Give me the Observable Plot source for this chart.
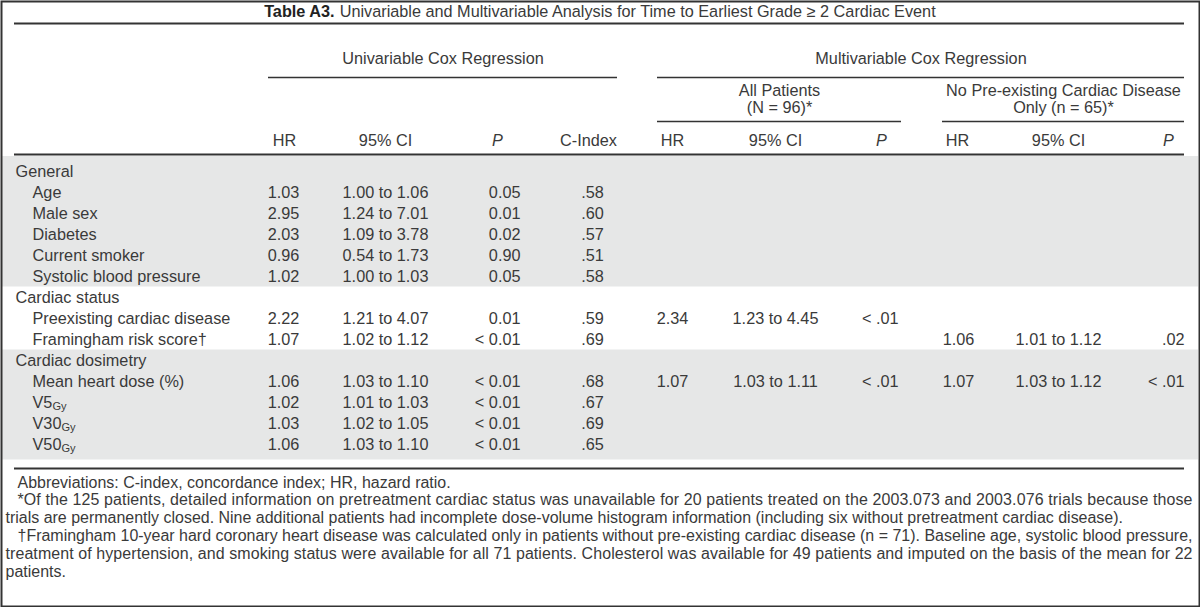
<!DOCTYPE html>
<html><head><meta charset="utf-8">
<script src="https://cdn.jsdelivr.net/npm/d3@7"></script>
<script src="https://cdn.jsdelivr.net/npm/@observablehq/plot@0.6"></script>
<style>html,body{margin:0;padding:0;background:#fff;overflow:hidden}</style>
</head><body><div id="chart"></div>
<script>
// ---------- data ----------
const titleBold = "Table A3.";
const titleRest = "Univariable and Multivariable Analysis for Time to Earliest Grade \u2265 2 Cardiac Event";
const spanners = ["Univariable Cox Regression", "Multivariable Cox Regression"];
const subSpanners = [["All Patients", "(N = 96)*"], ["No Pre-existing Cardiac Disease", "Only (n = 65)*"]];
const columnHeaders = ["HR", "95% CI", "P", "C-Index", "HR", "95% CI", "P", "HR", "95% CI", "P"];
const groups = ["General", "Cardiac status", "Cardiac dosimetry"];
const variables = ["Age", "Male sex", "Diabetes", "Current smoker", "Systolic blood pressure",
  "Preexisting cardiac disease", "Framingham risk score\u2020",
  "Mean heart dose (%)", "V5", "V30", "V50"];
const variableSub = ["", "", "", "", "", "", "", "", "Gy", "Gy", "Gy"];
const variableGroup = [0, 0, 0, 0, 0, 1, 1, 2, 2, 2, 2];
const uniHR = ["1.03", "2.95", "2.03", "0.96", "1.02", "2.22", "1.07", "1.06", "1.02", "1.03", "1.06"];
const uniCI = ["1.00 to 1.06", "1.24 to 7.01", "1.09 to 3.78", "0.54 to 1.73", "1.00 to 1.03",
  "1.21 to 4.07", "1.02 to 1.12", "1.03 to 1.10", "1.01 to 1.03", "1.02 to 1.05", "1.03 to 1.10"];
const uniP = ["0.05", "0.01", "0.02", "0.90", "0.05", "0.01", "< 0.01", "< 0.01", "< 0.01", "< 0.01", "< 0.01"];
const cIndex = [".58", ".60", ".57", ".51", ".58", ".59", ".69", ".68", ".67", ".69", ".65"];
const allHR = [null, null, null, null, null, "2.34", null, "1.07", null, null, null];
const allCI = [null, null, null, null, null, "1.23 to 4.45", null, "1.03 to 1.11", null, null, null];
const allP = [null, null, null, null, null, "< .01", null, "< .01", null, null, null];
const noHR = [null, null, null, null, null, null, "1.06", "1.07", null, null, null];
const noCI = [null, null, null, null, null, null, "1.01 to 1.12", "1.03 to 1.12", null, null, null];
const noP = [null, null, null, null, null, null, ".02", "< .01", null, null, null];
const footnotes = [
  "Abbreviations: C-index, concordance index; HR, hazard ratio.",
  "*Of the 125 patients, detailed information on pretreatment cardiac status was unavailable for 20 patients treated on the 2003.073 and 2003.076 trials because those",
  "trials are permanently closed. Nine additional patients had incomplete dose-volume histogram information (including six without pretreatment cardiac disease).",
  "\u2020Framingham 10-year hard coronary heart disease was calculated only in patients without pre-existing cardiac disease (n = 71). Baseline age, systolic blood pressure,",
  "treatment of hypertension, and smoking status were available for all 71 patients. Cholesterol was available for 49 patients and imputed on the basis of the mean for 22",
  "patients."
];
const footnoteIndent = [true, true, false, true, false, false];
const footnoteJustify = [false, true, false, true, true, false];

// ---------- layout & style ----------
const W = 1200, H = 607;
const FONT = "'Liberation Sans', Arial, Helvetica, sans-serif";
const BOLDFONT = "'Liberation Sans Narrow', 'Liberation Sans', Arial, sans-serif";
const INK = "#3a3a3a";
const SHADE = "#e6e7e7";
const L = {
  ruleX1: 14, ruleX2: 1184, shadeX1: 2, shadeX2: 1198,
  titleY: 11, titleRuleY: 23,
  spannerY: 58, spannerRuleY: 77,
  subY1: 90, subY2: 107, subRuleY: 121,
  headY: 140, headRuleY: 154,
  rowY0: 171, rowH: 21, lastPad: 5,
  bottomRuleY: 468, footY0: 482, footH: 17.8,
  groupX: 15, varX: 32, footIndentX: 17, footX: 5, footEnd: 1192
};
const spanExtent = [[268, 617], [657, 1184]];
const subExtent = [[657, 901], [942, 1184]];
const cols = [
  {x: 283, anchor: "middle", hx: 284},
  {x: 385, anchor: "middle", hx: 385},
  {x: 520, anchor: "end", hx: 497},
  {x: 592, anchor: "middle", hx: 588},
  {x: 672, anchor: "middle", hx: 672},
  {x: 775, anchor: "middle", hx: 775},
  {x: 898, anchor: "end", hx: 881},
  {x: 958, anchor: "middle", hx: 957},
  {x: 1058, anchor: "middle", hx: 1058},
  {x: 1184, anchor: "end", hx: 1168}
];
const series = [uniHR, uniCI, uniP, cIndex, allHR, allCI, allP, noHR, noCI, noP];

// font fitting
const ctx = document.createElement("canvas").getContext("2d");
function measure(text, size, family, weight = "normal") {
  ctx.font = `${weight} ${size}px ${family}`;
  return ctx.measureText(text).width;
}
const bodySize = 16 * 168 / measure("Systolic blood pressure", 16, FONT);
const foot = footnotes.map((t, i) => ({text: t, x: footnoteIndent[i] ? L.footIndentX : L.footX, y: L.footY0 + i * L.footH, justify: footnoteJustify[i]}));
const footSize = 14 * d3.min(foot.filter(d => d.justify), d => (L.footEnd - d.x) / measure(d.text, 14, FONT));
const subSize = bodySize * 0.68;

// ---------- build table rows ----------
const rows = [];
let r = 0;
groups.forEach((g, gi) => {
  rows.push({kind: "group", label: g, group: gi, row: r++});
  variables.forEach((v, i) => {
    if (variableGroup[i] === gi) rows.push({kind: "var", label: v, sub: variableSub[i], idx: i, group: gi, row: r++});
  });
});
const rowY = row => L.rowY0 + row * L.rowH;
const lastRow = d3.max(rows, d => d.row);

const bands = groups.map((g, gi) => {
  const rs = rows.filter(d => d.group === gi).map(d => d.row);
  const lo = d3.min(rs), hi = d3.max(rs);
  return {gi,
    y1: gi === 0 ? L.headRuleY + 2 : rowY(lo) - L.rowH / 2,
    y2: rowY(hi) + L.rowH / 2 + (hi === lastRow ? L.lastPad : 0)};
}).filter(d => d.gi % 2 === 0);

const labels = rows.map(d => ({text: d.label, x: d.kind === "group" ? L.groupX : L.varX, y: rowY(d.row)}));
const subs = rows.filter(d => d.sub).map(d => ({text: d.sub, x: L.varX + measure(d.label, bodySize, FONT), y: rowY(d.row) + 4}));

const cells = [];
rows.filter(d => d.kind === "var").forEach(d => {
  series.forEach((s, c) => {
    if (s[d.idx] != null) cells.push({text: s[d.idx], x: cols[c].x, anchor: cols[c].anchor, y: rowY(d.row)});
  });
});

const heads = columnHeaders.map((h, c) => ({text: h, x: cols[c].hx, italic: h === "P", y: L.headY}));
const spans = spanners.map((s, i) => ({text: s, x: (spanExtent[i][0] + spanExtent[i][1]) / 2, y: L.spannerY}));
const subsp = subSpanners.flatMap((s, i) => s.map((t, j) => ({text: t, x: (subExtent[i][0] + subExtent[i][1]) / 2, y: j ? L.subY2 : L.subY1})));

const rules = [
  {y: L.titleRuleY, x1: L.ruleX1, x2: L.ruleX2, w: 2},
  {y: L.headRuleY, x1: L.ruleX1, x2: L.ruleX2, w: 2},
  {y: L.bottomRuleY, x1: L.ruleX1, x2: L.ruleX2, w: 2},
  ...spanExtent.map(e => ({y: L.spannerRuleY, x1: e[0], x2: e[1], w: 1.3})),
  ...subExtent.map(e => ({y: L.subRuleY, x1: e[0], x2: e[1], w: 1.3}))
];

// title centred
const wBold = measure(titleBold, bodySize, BOLDFONT, "bold");
const wGap = measure(" ", bodySize, FONT);
const wRest = measure(titleRest, bodySize, FONT);
const tStart = W / 2 - (wBold + wGap + wRest) / 2;
const titleParts = [
  {text: titleBold, x: tStart, bold: true},
  {text: titleRest, x: tStart + wBold + wGap, bold: false}
];

const chart = Plot.plot({
  width: W, height: H, margin: 0,
  x: {domain: [0, W], range: [0, W], axis: null},
  y: {domain: [0, H], range: [0, H], axis: null},
  style: {fontFamily: FONT, background: "#fff", color: INK},
  marks: [
    Plot.rect(bands, {x1: () => L.shadeX1, x2: () => L.shadeX2, y1: "y1", y2: "y2", fill: SHADE}),
    Plot.ruleY(rules, {y: "y", x1: "x1", x2: "x2", stroke: "#333", strokeWidth: d => d.w}),
    Plot.text(titleParts.filter(d => d.bold), {x: "x", y: () => L.titleY, text: "text", textAnchor: "start", fontSize: bodySize, fontWeight: "bold", fontFamily: BOLDFONT, fill: "#222"}),
    Plot.text(titleParts.filter(d => !d.bold), {x: "x", y: () => L.titleY, text: "text", textAnchor: "start", fontSize: bodySize, fill: INK}),
    Plot.text(spans, {x: "x", y: "y", text: "text", fontSize: bodySize, fill: INK}),
    Plot.text(subsp, {x: "x", y: "y", text: "text", fontSize: bodySize, fill: INK}),
    Plot.text(heads.filter(d => !d.italic), {x: "x", y: "y", text: "text", fontSize: bodySize, fill: INK}),
    Plot.text(heads.filter(d => d.italic), {x: "x", y: "y", text: "text", fontSize: bodySize, fontStyle: "italic", fill: INK}),
    Plot.text(labels, {x: "x", y: "y", text: "text", textAnchor: "start", fontSize: bodySize, fill: INK}),
    Plot.text(subs, {x: "x", y: "y", text: "text", textAnchor: "start", fontSize: subSize, fill: INK}),
    Plot.text(cells.filter(d => d.anchor === "middle"), {x: "x", y: "y", text: "text", textAnchor: "middle", fontSize: bodySize, fill: INK}),
    Plot.text(cells.filter(d => d.anchor === "end"), {x: "x", y: "y", text: "text", textAnchor: "end", fontSize: bodySize, fill: INK}),
    Plot.text(foot, {x: "x", y: "y", text: "text", textAnchor: "start", fontSize: footSize, fill: INK}),
    Plot.frame({stroke: "#333", strokeWidth: 2, inset: 1})
  ]
});
// justify the full-width footnote lines, as in the printed table
chart.querySelectorAll("text").forEach(t => {
  const f = foot.find(d => d.text === t.textContent);
  if (f && f.justify) {
    t.setAttribute("textLength", L.footEnd - f.x);
    t.setAttribute("lengthAdjust", "spacing");
  }
});
document.getElementById("chart").appendChild(chart);
</script>
</body></html>
